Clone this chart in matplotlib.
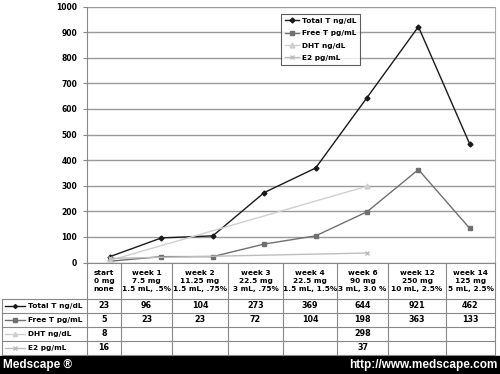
import numpy as np
import matplotlib
matplotlib.use("Agg")
import matplotlib.pyplot as plt
from matplotlib.lines import Line2D
from matplotlib.patches import Rectangle

plt.rcParams["font.family"] = ["Liberation Sans Narrow", "DejaVu Sans Condensed", "DejaVu Sans"]

W, H = 500, 374

columns = ["start\n0 mg\nnone", "week 1\n7.5 mg\n1.5 mL, .5%", "week 2\n11.25 mg\n1.5 mL, .75%",
           "week 3\n22.5 mg\n3 mL, .75%", "week 4\n22.5 mg\n1.5 mL, 1.5%", "week 6\n90 mg\n3 mL, 3.0 %",
           "week 12\n250 mg\n10 mL, 2.5%", "week 14\n125 mg\n5 mL, 2.5%"]
total_t = [23, 96, 104, 273, 369, 644, 921, 462]
free_t = [5, 23, 23, 72, 104, 198, 363, 133]
dht = [8, None, None, None, None, 298, None, None]
e2 = [16, None, None, None, None, 37, None, None]

series = [
    ("Total T ng/dL", total_t, "#1a1a1a", "D", 2.5),
    ("Free T pg/mL", free_t, "#707070", "s", 3.5),
    ("DHT ng/dL", dht, "#cfcfcf", "^", 3.5),
    ("E2 pg/mL", e2, "#bdbdbd", "x", 3.5),
]

# table column edges in pixels (picture was stretched unevenly)
col_edges = [87, 121, 172, 228, 283, 337, 388, 446, 495]
row_edges = [263, 299, 313, 327, 341, 355]


def fx(x):
    return x / W


def fy(y):
    return 1 - y / H


fig = plt.figure(figsize=(5, 3.74), dpi=100)
ax = fig.add_axes([fx(87), fy(262.5), fx(495) - fx(87), fy(6.5) - fy(262.5)])

xs = np.arange(len(columns))
for name, vals, color, mk, ms in series:
    pts = [(x, v) for x, v in zip(xs, vals) if v is not None]
    px, py = zip(*pts)
    ax.plot(px, py, color=color, lw=1.0, marker=mk, ms=ms, mew=1.0, label=name)

ax.set_xlim(-0.447, 7.49)
ax.set_ylim(0, 1000)
ax.set_yticks(range(0, 1001, 100))
ax.set_xticks([])
ax.yaxis.grid(True, color="#9a9a9a", lw=1.0)
ax.set_axisbelow(True)
ax.tick_params(axis="y", length=3, color="#888888", labelsize=5.5, pad=4)
for lab in ax.get_yticklabels():
    lab.set_fontweight("bold")
for s in ["top", "bottom"]:
    ax.spines[s].set_visible(False)
ax.spines["left"].set_color("#888888")
ax.spines["right"].set_color("#aaaaaa")

leg = ax.legend(loc="upper left", bbox_to_anchor=((281 - 87) / 408, 1 - (14 - 6.5) / 256),
                fontsize=5.3, frameon=True, fancybox=False, handlelength=1.9, borderpad=0.5,
                labelspacing=0.85, handletextpad=0.4, borderaxespad=0)
leg.get_frame().set_edgecolor("#333333")
leg.get_frame().set_linewidth(0.8)
for t in leg.get_texts():
    t.set_fontweight("bold")

# table grid
lc = "#888888"
for y in row_edges[1:]:
    fig.add_artist(Line2D([fx(2), fx(495)], [fy(y), fy(y)], color=lc, lw=0.8))
fig.add_artist(Line2D([fx(87), fx(495)], [fy(263), fy(263)], color=lc, lw=0.8))
fig.add_artist(Line2D([fx(2), fx(2)], [fy(299), fy(355)], color=lc, lw=0.8))
for x in col_edges:
    fig.add_artist(Line2D([fx(x), fx(x)], [fy(263), fy(355)], color=lc, lw=0.8))

for i, head in enumerate(columns):
    cx = (col_edges[i] + col_edges[i + 1]) / 2
    fig.text(fx(cx), fy(281), head, ha="center", va="center", fontsize=5.3,
             fontweight="bold", linespacing=1.45)

for r, (name, vals, color, mk, ms) in enumerate(series):
    cy = (row_edges[r + 1] + row_edges[r + 2]) / 2
    fig.add_artist(Line2D([fx(5), fx(25)], [fy(cy), fy(cy)], color=color, lw=1.0))
    fig.add_artist(Line2D([fx(15)], [fy(cy)], color=color, marker=mk, ms=ms - 0.5, mew=1.0))
    fig.text(fx(28), fy(cy), name, ha="left", va="center", fontsize=5.3, fontweight="bold")
    for i, v in enumerate(vals):
        if v is None:
            continue
        cx = (col_edges[i] + col_edges[i + 1]) / 2
        fig.text(fx(cx), fy(cy), str(v), ha="center", va="center", fontsize=5.8,
                 fontweight="bold")

# footer band
fig.add_artist(Rectangle((0, 0), 1, fy(356), transform=fig.transFigure, color="black"))
fig.text(fx(3), fy(365), "Medscape \u00ae", ha="left", va="center", color="white",
         fontsize=8.5, fontweight="bold", family="Liberation Sans")
fig.text(fx(497), fy(365), "http://www.medscape.com", ha="right", va="center",
         color="white", fontsize=8.5, fontweight="bold", family="Liberation Sans")

fig.savefig("out.png", dpi=100)
